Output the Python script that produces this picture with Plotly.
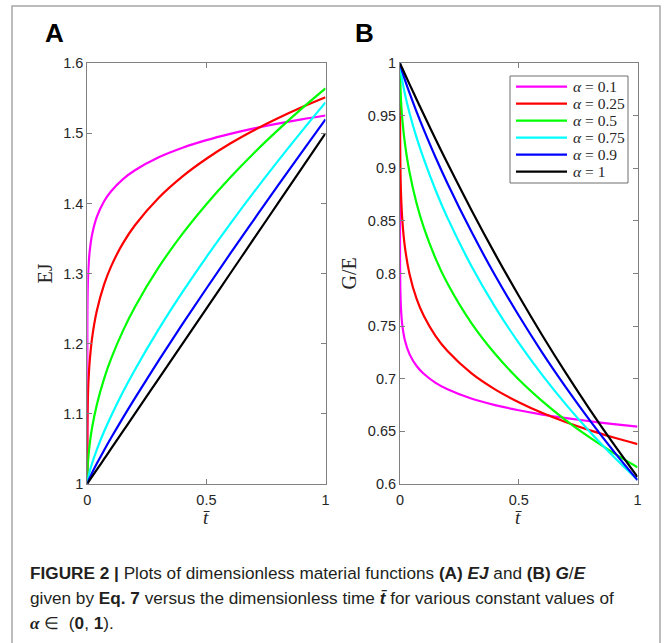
import plotly.graph_objects as go

W, H = 664, 643

# Dimensionless time samples (denser near zero where the curves are steep)
T_BAR = [0, 0.0001, 0.0005, 0.002, 0.005, 0.01, 0.02, 0.04, 0.07, 0.1,
         0.15, 0.2, 0.3, 0.4, 0.5, 0.6, 0.7, 0.8, 0.9, 1.0]

ALPHA_LABELS = ["0.1", "0.25", "0.5", "0.75", "0.9", "1"]
LINE_COLORS = ["#ff00ff", "#ff0000", "#00ff00", "#00ffff", "#0000ff", "#000000"]

# Panel A: EJ
EJ_010 = [1, 1.2092, 1.2458, 1.2822, 1.3094, 1.3316, 1.3553, 1.3809, 1.4028, 1.4174,
          1.4347, 1.4474, 1.4659, 1.4795, 1.4903, 1.4993, 1.5071, 1.5139, 1.5200, 1.5255]
EJ_025 = [1, 1.0552, 1.0825, 1.1167, 1.1467, 1.1744, 1.2075, 1.2467, 1.2837, 1.3102,
          1.3433, 1.3689, 1.4082, 1.4387, 1.4638, 1.4855, 1.5045, 1.5216, 1.5373, 1.5516]
EJ_050 = [1, 1.0056, 1.0126, 1.0252, 1.0399, 1.0564, 1.0798, 1.1128, 1.1493, 1.1784,
          1.2185, 1.2523, 1.3090, 1.3568, 1.3989, 1.4370, 1.4721, 1.5046, 1.5353, 1.5642]
EJ_075 = [1, 1.0005, 1.0018, 1.0051, 1.0102, 1.0172, 1.0289, 1.0486, 1.0741, 1.0967,
          1.1311, 1.1627, 1.2206, 1.2737, 1.3235, 1.3709, 1.4164, 1.4603, 1.5028, 1.5441]
EJ_090 = [1, 1.0001, 1.0006, 1.0019, 1.0044, 1.0082, 1.0154, 1.0287, 1.0475, 1.0655,
          1.0943, 1.1222, 1.1759, 1.2280, 1.2786, 1.3283, 1.3770, 1.4254, 1.4730, 1.5199]
EJ_100 = [1, 1.00005, 1.00025, 1.001, 1.0025, 1.005, 1.01, 1.02, 1.035, 1.05,
          1.075, 1.1, 1.15, 1.2, 1.25, 1.3, 1.35, 1.4, 1.45, 1.5]

# Panel B: G/E
GE_010 = [1, 0.8266, 0.8023, 0.7793, 0.7631, 0.7503, 0.7370, 0.7233, 0.7120, 0.7046,
          0.6960, 0.6899, 0.6811, 0.6748, 0.6699, 0.6658, 0.6624, 0.6594, 0.6567, 0.6543]
GE_025 = [1, 0.9475, 0.9234, 0.8948, 0.8710, 0.8500, 0.8263, 0.7996, 0.7759, 0.7598,
          0.7405, 0.7262, 0.7052, 0.6898, 0.6775, 0.6672, 0.6584, 0.6507, 0.6439, 0.6377]
GE_050 = [1, 0.9944, 0.9875, 0.9753, 0.9613, 0.9460, 0.9250, 0.8965, 0.8666, 0.8439,
          0.8142, 0.7904, 0.7530, 0.7236, 0.6992, 0.6784, 0.6601, 0.6438, 0.6291, 0.6157]
GE_075 = [1, 0.9995, 0.9982, 0.9949, 0.9898, 0.9830, 0.9716, 0.9528, 0.9293, 0.9090,
          0.8792, 0.8529, 0.8074, 0.7683, 0.7339, 0.7030, 0.6750, 0.6493, 0.6257, 0.6038]
GE_090 = [1, 0.9999, 0.9994, 0.9981, 0.9956, 0.9918, 0.9848, 0.9718, 0.9538, 0.9369,
          0.9104, 0.8857, 0.8401, 0.7983, 0.7600, 0.7243, 0.6912, 0.6600, 0.6307, 0.6034]
GE_100 = [1, 0.99995, 0.99975, 0.9990, 0.9975, 0.9950, 0.9900, 0.9802, 0.9656, 0.9512,
          0.9277, 0.9048, 0.8607, 0.8187, 0.7788, 0.7408, 0.7047, 0.6703, 0.6376, 0.6065]

EJ_SERIES = [EJ_010, EJ_025, EJ_050, EJ_075, EJ_090, EJ_100]
GE_SERIES = [GE_010, GE_025, GE_050, GE_075, GE_090, GE_100]

X_TICKS = [0, 0.5, 1]
X_TICKTEXT = ["0", "0.5", "1"]
A_YTICKS = [1, 1.1, 1.2, 1.3, 1.4, 1.5, 1.6]
A_YTICKTEXT = ["1", "1.1", "1.2", "1.3", "1.4", "1.5", "1.6"]
B_YTICKS = [0.6, 0.65, 0.7, 0.75, 0.8, 0.85, 0.9, 0.95, 1]
B_YTICKTEXT = ["0.6", "0.65", "0.7", "0.75", "0.8", "0.85", "0.9", "0.95", "1"]


def px(x):
    return x / W


def py(y):
    return 1 - y / H


AXIS_GREY = "#808080"
TICK_FONT = dict(family="Liberation Sans, Arial, sans-serif", size=14.5, color="#262626")
SERIF = "Liberation Serif, Times New Roman, serif"
SANS = "Liberation Sans, Arial, sans-serif"
INK = "#231f20"

fig = go.Figure()
for lab, col, ej in zip(ALPHA_LABELS, LINE_COLORS, EJ_SERIES):
    fig.add_trace(go.Scatter(x=T_BAR, y=ej, mode="lines", name="α = " + lab,
                             line=dict(color=col, width=2.2, shape="spline", smoothing=1),
                             xaxis="x", yaxis="y", showlegend=False, hoverinfo="skip"))
for lab, col, ge in zip(ALPHA_LABELS, LINE_COLORS, GE_SERIES):
    fig.add_trace(go.Scatter(x=T_BAR, y=ge, mode="lines", name="α = " + lab,
                             line=dict(color=col, width=2.2, shape="spline", smoothing=1),
                             xaxis="x2", yaxis="y2", showlegend=False, hoverinfo="skip"))

axis_style = dict(showline=True, linecolor=AXIS_GREY, linewidth=1, mirror="ticks",
                  ticks="inside", ticklen=5, tickwidth=1, tickcolor=AXIS_GREY,
                  showgrid=False, zeroline=False, tickfont=TICK_FONT,
                  automargin=False, fixedrange=True)

y_dom = [py(483.7), py(63.3)]
fig.update_layout(
    width=W, height=H,
    margin=dict(l=0, r=0, t=0, b=0),
    paper_bgcolor="white", plot_bgcolor="white",
    xaxis=dict(domain=[px(87.3), px(325.5)], range=[0, 1], tickvals=X_TICKS,
               ticktext=X_TICKTEXT, anchor="y", ticklabelstandoff=3, **axis_style),
    yaxis=dict(domain=y_dom, range=[1, 1.6], tickvals=A_YTICKS,
               ticktext=A_YTICKTEXT, anchor="x", **axis_style),
    xaxis2=dict(domain=[px(400), px(637.5)], range=[0, 1], tickvals=X_TICKS,
                ticktext=X_TICKTEXT, anchor="y2", ticklabelstandoff=3, **axis_style),
    yaxis2=dict(domain=y_dom, range=[0.6, 1], tickvals=B_YTICKS,
                ticktext=B_YTICKTEXT, anchor="x2", **axis_style),
    showlegend=False,
)

shapes = []
annotations = []

# outer frame of the figure
shapes.append(dict(type="rect", xref="paper", yref="paper",
                   x0=px(12), x1=px(660), y0=py(660), y1=py(6),
                   line=dict(color="#a6a6a6", width=1.5), fillcolor="rgba(0,0,0,0)"))


def note(text, x, y, size, family=SANS, color="black", xanchor="center",
         yanchor="middle", angle=0):
    annotations.append(dict(text=text, x=px(x), y=py(y), xref="paper", yref="paper",
                            xanchor=xanchor, yanchor=yanchor, showarrow=False,
                            textangle=angle,
                            font=dict(family=family, size=size, color=color)))


# panel letters
note("<b>A</b>", 54, 33, 26)
note("<b>B</b>", 365, 33, 26)

# axis titles
note("EJ", 44, 273.5, 20, family=SERIF, color="#262626", angle=-90)
note("G/E", 348, 273.5, 20, family=SERIF, color="#262626", angle=-90)
note("<i>t\u0304</i>", (87.3 + 325.5) / 2, 517, 19, family=SERIF, color="#262626")
note("<i>t\u0304</i>", (400 + 637.5) / 2, 517, 19, family=SERIF, color="#262626")

# legend box inside panel B
lx0, lx1, ly0, ly1 = 510, 628, 76, 183
shapes.append(dict(type="rect", xref="paper", yref="paper",
                   x0=px(lx0), x1=px(lx1), y0=py(ly1), y1=py(ly0),
                   line=dict(color="#6e6e6e", width=1), fillcolor="white"))
for i, (lab, col) in enumerate(zip(ALPHA_LABELS, LINE_COLORS)):
    yy = 86.7 + 17.0 * i
    shapes.append(dict(type="line", xref="paper", yref="paper",
                       x0=px(516), x1=px(567), y0=py(yy), y1=py(yy),
                       line=dict(color=col, width=2.2)))
    note("<i>α</i> = " + lab, 571, yy, 15.5, family=SERIF, color="#262626",
         xanchor="left")

# caption
cap1 = ("<b>FIGURE 2 |</b> Plots of dimensionless material functions "
        "<b>(A)</b> <b><i>EJ</i></b> and <b>(B)</b> <b><i>G</i></b>/<b><i>E</i></b>")
cap2 = ("given by <b>Eq. 7</b> versus the dimensionless time "
        "<b><i>t\u0304</i></b> for various constant values of")
cap3 = ("<span style='font-family:Liberation Serif'><b><i>α</i></b></span> ∈ "
        " (<b>0</b>, <b>1</b>).")
note(cap1, 28, 573, 17.2, color=INK, xanchor="left")
note(cap2, 28, 598, 17.2, color=INK, xanchor="left")
note(cap3, 28, 623, 17.2, color=INK, xanchor="left")

fig.update_layout(shapes=shapes, annotations=annotations)

fig.write_html("out.html")
